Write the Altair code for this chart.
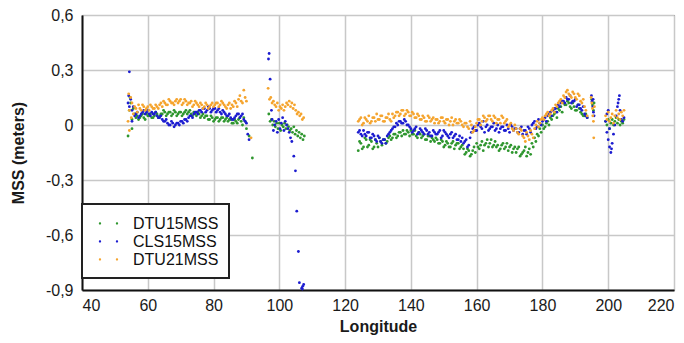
import altair as alt
import pandas as pd

series_names = ["DTU15MSS", "CLS15MSS", "DTU21MSS"]
series_colors = ["#2e962e", "#1c1cd0", "#f5a42e"]

x_ticks = [40, 60, 80, 100, 120, 140, 160, 180, 200, 220]
y_ticks = [-0.9, -0.6, -0.3, 0, 0.3, 0.6]

# ---------- segment 1 (54 E - 90 E) ----------
lon_s1 = [54.0, 54.8, 55.6, 56.4, 57.2, 58.0, 58.8, 59.6, 60.4, 61.2,
          62.0, 62.8, 63.6, 64.4, 65.2, 66.0, 66.8, 67.6, 68.4, 69.2,
          70.0, 70.8, 71.6, 72.4, 73.2, 74.0, 74.8, 75.6, 76.4, 77.2,
          78.0, 78.8, 79.6, 80.4, 81.2, 82.0, 82.8, 83.6, 84.4, 85.2,
          86.0, 86.8, 87.6, 88.4, 89.2, 90.0]
dtu15_s1 = [-0.06, 0.12, 0.09, 0.04, 0.03, 0.05, 0.04, 0.06, 0.05, 0.04,
            0.05, 0.06, 0.05, 0.06, 0.07, 0.06, 0.07, 0.06, 0.07, 0.06,
            0.07, 0.06, 0.08, 0.07, 0.06, 0.07, 0.05, 0.06, 0.05, 0.04,
            0.05, 0.03, 0.04, 0.03, 0.04, 0.03, 0.04, 0.03, 0.02, 0.03,
            0.01, 0.02, 0.03, 0.02, 0.04, -0.02]
cls15_s1 = [0.12, 0.14, 0.10, 0.06, 0.04, 0.06, 0.08, 0.07, 0.06, 0.07,
            0.06, 0.05, 0.04, 0.03, 0.02, 0.01, 0.00, 0.01, 0.00, 0.01,
            0.02, 0.01, 0.03, 0.04, 0.05, 0.06, 0.07, 0.08, 0.07, 0.09,
            0.08, 0.09, 0.08, 0.09, 0.08, 0.07, 0.08, 0.06, 0.05, 0.04,
            0.03, 0.05, 0.06, 0.05, 0.03, 0.01]
dtu21_s1 = [0.02, 0.15, 0.06, 0.09, 0.11, 0.08, 0.10, 0.09, 0.08, 0.10,
            0.09, 0.10, 0.11, 0.10, 0.12, 0.11, 0.13, 0.12, 0.13, 0.12,
            0.14, 0.12, 0.13, 0.12, 0.13, 0.11, 0.12, 0.10, 0.11, 0.10,
            0.11, 0.10, 0.12, 0.11, 0.12, 0.11, 0.12, 0.10, 0.11, 0.09,
            0.10, 0.12, 0.14, 0.13, 0.19, 0.13]

lon_s1b = [54.4, 55.2, 56.0, 56.8, 57.6, 58.4, 59.2, 60.0, 60.8, 61.6,
           62.4, 63.2, 64.0, 64.8, 65.6, 66.4, 67.2, 68.0, 68.8, 69.6,
           70.4, 71.2, 72.0, 72.8, 73.6, 74.4, 75.2, 76.0, 76.8, 77.6,
           78.4, 79.2, 80.0, 80.8, 81.6, 82.4, 83.2, 84.0, 84.8, 85.6,
           86.4, 87.2, 88.0, 88.8, 89.6]
dtu15_s1b = [0.08, 0.03, 0.06, 0.05, 0.04, 0.06, 0.03, 0.05, 0.06, 0.04,
             0.07, 0.04, 0.06, 0.08, 0.05, 0.07, 0.05, 0.08, 0.05, 0.07,
             0.05, 0.07, 0.06, 0.08, 0.05, 0.06, 0.07, 0.04, 0.06, 0.05,
             0.03, 0.05, 0.02, 0.04, 0.02, 0.04, 0.02, 0.04, 0.03, 0.01,
             0.03, 0.01, 0.04, 0.00, 0.02]
cls15_s1b = [0.10, 0.08, 0.05, 0.07, 0.05, 0.07, 0.06, 0.08, 0.05, 0.06,
             0.07, 0.04, 0.05, 0.02, 0.03, 0.00, 0.02, -0.01, 0.01, 0.00,
             0.02, 0.03, 0.02, 0.05, 0.04, 0.07, 0.06, 0.08, 0.09, 0.07,
             0.10, 0.07, 0.09, 0.07, 0.09, 0.06, 0.07, 0.05, 0.06, 0.03,
             0.04, 0.06, 0.04, 0.06, 0.02]
dtu21_s1b = [0.08, 0.12, 0.10, 0.07, 0.09, 0.11, 0.08, 0.10, 0.11, 0.09,
             0.11, 0.09, 0.12, 0.13, 0.11, 0.14, 0.12, 0.11, 0.14, 0.13,
             0.11, 0.14, 0.11, 0.12, 0.10, 0.13, 0.11, 0.12, 0.09, 0.12,
             0.09, 0.11, 0.10, 0.12, 0.10, 0.13, 0.11, 0.09, 0.12, 0.11,
             0.13, 0.10, 0.16, 0.12, 0.15]

dtu15_x1_lon = [54.6, 55.2, 90.8, 91.8]
dtu15_x1_val = [0.15, -0.02, -0.06, -0.18]
cls15_x1_lon = [54.4, 54.2, 55.2, 90.4, 90.8]
cls15_x1_val = [0.29, 0.16, 0.02, -0.05, -0.08]
dtu21_x1_lon = [54.2, 54.4, 55.0, 91.4]
dtu21_x1_val = [0.17, -0.03, 0.04, -0.07]

# ---------- segment 2 (97 E - 108 E) ----------
dtu15_s2_lon = [96.8, 97.2, 97.6, 98.0, 98.4, 98.8, 99.2, 99.6, 100.0, 100.4,
                100.8, 101.2, 101.6, 102.0, 102.4, 102.8, 103.2, 103.6, 104.0, 104.4,
                104.8, 105.2, 105.6, 106.0, 106.4, 106.8, 107.2, 107.6]
dtu15_s2 = [0.06, 0.02, 0.03, 0.00, 0.02, -0.01, 0.01, -0.02, 0.01, -0.03,
            0.00, -0.01, 0.01, -0.02, 0.00, -0.01, -0.03, -0.02, -0.04, -0.01,
            -0.05, -0.03, -0.06, -0.04, -0.07, -0.05, -0.08, -0.06]
cls15_s2_lon = [96.7, 96.9, 97.2, 97.6, 97.8, 98.2, 98.6, 99.0, 99.4, 99.8,
                100.2, 100.6, 101.0, 101.4, 101.8, 102.2, 102.6, 103.0, 103.4, 103.8,
                104.4, 104.9, 105.3, 105.8, 106.1, 106.8, 107.0, 107.1, 107.4]
cls15_s2 = [0.36, 0.39, 0.25, 0.08, 0.03, -0.03, 0.00, 0.02, -0.04, 0.03,
            -0.02, 0.01, 0.04, -0.03, 0.02, 0.00, -0.02, -0.04, -0.07, -0.09,
            -0.17, -0.25, -0.47, -0.69, -0.86, -0.89, -0.895, -0.88, -0.87]
dtu21_s2_lon = [96.6, 97.0, 97.4, 97.8, 98.2, 98.6, 99.0, 99.4, 99.8, 100.2,
                100.6, 101.0, 101.4, 101.8, 102.2, 102.6, 103.0, 103.4, 103.8, 104.2,
                104.6, 105.0, 105.4, 105.8, 106.2, 106.6, 107.0, 107.4]
dtu21_s2 = [0.20, 0.14, 0.15, 0.12, 0.13, 0.11, 0.10, 0.12, 0.08, 0.10,
            0.09, 0.11, 0.08, 0.10, 0.12, 0.11, 0.13, 0.10, 0.12, 0.09,
            0.11, 0.08, 0.06, 0.07, 0.05, 0.06, 0.03, 0.04]

# ---------- segment 3 (124 E - 194 E) ----------
lon_s3 = [124.0, 124.8, 125.6, 126.4, 127.2, 128.0, 128.8, 129.6, 130.4, 131.2,
          132.0, 132.8, 133.6, 134.4, 135.2, 136.0, 136.8, 137.6, 138.4, 139.2,
          140.0, 140.8, 141.6, 142.4, 143.2, 144.0, 144.8, 145.6, 146.4, 147.2,
          148.0, 148.8, 149.6, 150.4, 151.2, 152.0, 152.8, 153.6, 154.4, 155.2,
          156.0, 156.8, 157.6, 158.4, 159.2, 160.0, 160.8, 161.6, 162.4, 163.2,
          164.0, 164.8, 165.6, 166.4, 167.2, 168.0, 168.8, 169.6, 170.4, 171.2,
          172.0, 172.8, 173.6, 174.4, 175.2, 176.0, 176.8, 177.6, 178.4, 179.2,
          180.0, 180.8, 181.6, 182.4, 183.2, 184.0, 184.8, 185.6, 186.4, 187.2,
          188.0, 188.8, 189.6, 190.4, 191.2, 192.0, 192.8, 193.6]
dtu15_s3 = [-0.14, -0.10, -0.12, -0.08, -0.11, -0.09, -0.12, -0.10, -0.07, -0.11,
            -0.08, -0.09, -0.06, -0.07, -0.05, -0.06, -0.04, -0.03, -0.05, -0.04,
            -0.03, -0.05, -0.06, -0.04, -0.07, -0.05, -0.08, -0.06, -0.07, -0.09,
            -0.08, -0.10, -0.09, -0.11, -0.10, -0.12, -0.09, -0.11, -0.10, -0.12,
            -0.13, -0.15, -0.14, -0.16, -0.12, -0.10, -0.13, -0.09, -0.11, -0.08,
            -0.10, -0.12, -0.09, -0.11, -0.13, -0.10, -0.12, -0.14, -0.11, -0.13,
            -0.15, -0.12, -0.16, -0.14, -0.17, -0.13, -0.10, -0.07, -0.05, -0.02,
            0.00, -0.01, 0.02, 0.04, 0.05, 0.07, 0.09, 0.10, 0.12, 0.11,
            0.12, 0.09, 0.10, 0.08, 0.09, 0.06, 0.05, 0.04]
cls15_s3 = [-0.04, -0.05, -0.03, -0.06, -0.04, -0.07, -0.06, -0.09, -0.07, -0.10,
            -0.08, -0.06, -0.04, -0.02, -0.01, 0.00, 0.02, 0.01, 0.02, 0.00,
            -0.02, -0.03, -0.01, -0.04, -0.03, -0.05, -0.03, -0.04, -0.06, -0.04,
            -0.05, -0.03, -0.06, -0.04, -0.06, -0.05, -0.07, -0.05, -0.08, -0.09,
            -0.10, -0.08, -0.11, -0.04, -0.01, -0.03, 0.01, -0.02, -0.04, 0.00,
            -0.02, -0.01, -0.03, 0.00, -0.02, -0.01, -0.03, -0.02, 0.00, -0.03,
            -0.02, -0.04, -0.01, -0.03, -0.05, -0.02, 0.00, 0.02, -0.01, 0.01,
            0.02, 0.04, 0.05, 0.07, 0.08, 0.09, 0.11, 0.12, 0.13, 0.15,
            0.14, 0.12, 0.13, 0.10, 0.11, 0.08, 0.06, 0.04]
dtu21_s3 = [0.02, 0.04, 0.01, 0.03, 0.05, 0.02, 0.04, 0.06, 0.03, 0.05,
            0.02, 0.04, 0.03, 0.06, 0.05, 0.07, 0.06, 0.08, 0.06, 0.07,
            0.05, 0.06, 0.04, 0.05, 0.03, 0.04, 0.02, 0.04, 0.03, 0.01,
            0.03, 0.02, 0.04, 0.01, 0.03, 0.02, 0.00, 0.03, 0.01, 0.02,
            -0.01, 0.01, -0.02, 0.00, -0.03, 0.01, 0.03, 0.02, 0.04, 0.03,
            0.05, 0.02, 0.04, 0.03, 0.01, 0.04, 0.02, -0.01, 0.01, -0.03,
            -0.02, -0.05, -0.03, -0.07, -0.04, -0.08, -0.05, -0.02, 0.02, 0.01,
            0.04, 0.05, 0.07, 0.06, 0.09, 0.11, 0.12, 0.14, 0.16, 0.18,
            0.17, 0.15, 0.17, 0.14, 0.16, 0.12, 0.10, 0.05]

lon_s3b = [124.4, 125.2, 126.0, 126.8, 127.6, 128.4, 129.2, 130.0, 130.8, 131.6,
           132.4, 133.2, 134.0, 134.8, 135.6, 136.4, 137.2, 138.0, 138.8, 139.6,
           140.4, 141.2, 142.0, 142.8, 143.6, 144.4, 145.2, 146.0, 146.8, 147.6,
           148.4, 149.2, 150.0, 150.8, 151.6, 152.4, 153.2, 154.0, 154.8, 155.6,
           156.4, 157.2, 158.0, 158.8, 159.6, 160.4, 161.2, 162.0, 162.8, 163.6,
           164.4, 165.2, 166.0, 166.8, 167.6, 168.4, 169.2, 170.0, 170.8, 171.6,
           172.4, 173.2, 174.0, 174.8, 175.6, 176.4, 177.2, 178.0, 178.8, 179.6,
           180.4, 181.2, 182.0, 182.8, 183.6, 184.4, 185.2, 186.0, 186.8, 187.6,
           188.4, 189.2, 190.0, 190.8, 191.6, 192.4, 193.2]
dtu15_s3b = [-0.09, -0.13, -0.07, -0.12, -0.08, -0.13, -0.08, -0.12, -0.09, -0.08,
             -0.10, -0.07, -0.08, -0.05, -0.07, -0.04, -0.06, -0.05, -0.03, -0.06,
             -0.05, -0.03, -0.07, -0.05, -0.06, -0.08, -0.06, -0.09, -0.08, -0.07,
             -0.10, -0.08, -0.12, -0.09, -0.12, -0.10, -0.13, -0.10, -0.13, -0.11,
             -0.16, -0.13, -0.17, -0.14, -0.15, -0.12, -0.11, -0.14, -0.10, -0.12,
             -0.08, -0.11, -0.12, -0.14, -0.11, -0.13, -0.10, -0.12, -0.15, -0.12,
             -0.13, -0.17, -0.15, -0.12, -0.15, -0.16, -0.12, -0.09, -0.06, -0.04,
             -0.02, 0.01, 0.00, 0.03, 0.06, 0.04, 0.08, 0.07, 0.11, 0.13,
             0.10, 0.12, 0.08, 0.11, 0.07, 0.05, 0.06]
cls15_s3b = [-0.03, -0.06, -0.05, -0.04, -0.07, -0.05, -0.08, -0.06, -0.09, -0.08,
             -0.10, -0.05, -0.03, -0.01, 0.01, 0.02, 0.01, 0.03, 0.00, -0.01,
             -0.04, -0.02, -0.05, -0.02, -0.04, -0.02, -0.05, -0.06, -0.03, -0.05,
             -0.04, -0.07, -0.03, -0.05, -0.07, -0.04, -0.06, -0.08, -0.06, -0.07,
             -0.09, -0.12, -0.07, -0.02, -0.03, 0.00, -0.01, 0.02, -0.01, -0.03,
             -0.01, 0.01, -0.02, -0.04, -0.01, -0.03, 0.00, -0.04, -0.01, -0.02,
             -0.04, -0.02, -0.05, -0.03, -0.01, -0.04, 0.01, -0.02, 0.03, 0.00,
             0.03, 0.02, 0.06, 0.05, 0.09, 0.07, 0.10, 0.13, 0.12, 0.14,
             0.16, 0.13, 0.14, 0.11, 0.09, 0.10, 0.05]
dtu21_s3b = [0.03, 0.00, 0.04, 0.02, 0.01, 0.04, 0.02, 0.03, 0.05, 0.02,
             0.04, 0.06, 0.02, 0.04, 0.07, 0.05, 0.08, 0.05, 0.08, 0.05,
             0.07, 0.04, 0.06, 0.03, 0.05, 0.02, 0.05, 0.02, 0.04, 0.03,
             0.01, 0.04, 0.02, 0.03, 0.00, 0.04, 0.02, 0.01, 0.03, 0.00,
             0.01, -0.01, 0.02, -0.04, -0.01, 0.03, 0.00, 0.05, 0.02, 0.05,
             0.03, 0.05, 0.01, 0.03, 0.05, 0.01, 0.03, 0.00, -0.02, 0.00,
             -0.04, -0.02, -0.06, -0.09, -0.06, -0.03, -0.07, 0.00, -0.01, 0.03,
             0.03, 0.06, 0.05, 0.08, 0.07, 0.10, 0.13, 0.12, 0.15, 0.19,
             0.16, 0.18, 0.15, 0.17, 0.13, 0.14, 0.08]

# ---------- short track near 195 E ----------
dtu15_s4_lon = [195.0, 195.2, 195.5, 195.7]
dtu15_s4 = [0.14, 0.11, 0.08, 0.12]
cls15_s4_lon = [194.9, 195.1, 195.3, 195.5, 195.7, 195.4]
cls15_s4 = [0.16, 0.13, 0.10, 0.07, 0.05, 0.14]
dtu21_s4_lon = [194.8, 195.0, 195.2, 195.3, 195.5, 195.6, 195.8]
dtu21_s4 = [0.15, 0.12, 0.09, 0.05, 0.02, -0.07, 0.10]

# ---------- last track (199 E - 205 E) ----------
lon_s5 = [199.2, 199.6, 200.0, 200.4, 200.8, 201.2, 201.6, 202.0, 202.4, 202.8,
          203.2, 203.6, 204.0, 204.4, 204.8]
dtu15_s5 = [0.02, 0.00, 0.03, -0.02, 0.01, 0.03, 0.00, 0.02, 0.04, 0.01,
            0.03, 0.00, 0.02, 0.01, 0.03]
cls15_s5 = [0.02, -0.04, -0.08, -0.12, -0.15, -0.10, -0.05, 0.00, 0.05, 0.10,
            0.14, 0.08, 0.03, 0.02, 0.04]
dtu21_s5 = [0.05, 0.03, 0.07, 0.02, 0.04, 0.06, 0.01, 0.05, 0.08, 0.04,
            0.06, 0.03, 0.07, 0.05, 0.08]
cls15_x5_lon = [199.6, 200.4, 201.0, 203.0, 203.4, 200.0]
cls15_x5_val = [0.06, -0.02, -0.13, 0.12, 0.16, 0.08]


def frame(name, pairs):
    rows = []
    for lons, vals in pairs:
        for lo, va in zip(lons, vals):
            rows.append({"lon": lo, "mss": va, "series": name})
    return rows


rows = []
rows += frame("DTU15MSS", [(lon_s1, dtu15_s1), (lon_s1b, dtu15_s1b),
                           (dtu15_x1_lon, dtu15_x1_val),
                           (dtu15_s2_lon, dtu15_s2), (lon_s3, dtu15_s3),
                           (lon_s3b, dtu15_s3b),
                           (dtu15_s4_lon, dtu15_s4), (lon_s5, dtu15_s5)])
rows += frame("CLS15MSS", [(lon_s1, cls15_s1), (lon_s1b, cls15_s1b),
                           (cls15_x1_lon, cls15_x1_val),
                           (cls15_s2_lon, cls15_s2), (lon_s3, cls15_s3),
                           (lon_s3b, cls15_s3b),
                           (cls15_s4_lon, cls15_s4), (lon_s5, cls15_s5),
                           (cls15_x5_lon, cls15_x5_val)])
rows += frame("DTU21MSS", [(lon_s1, dtu21_s1), (lon_s1b, dtu21_s1b),
                           (dtu21_x1_lon, dtu21_x1_val),
                           (dtu21_s2_lon, dtu21_s2), (lon_s3, dtu21_s3),
                           (lon_s3b, dtu21_s3b),
                           (dtu21_s4_lon, dtu21_s4), (lon_s5, dtu21_s5)])
df = pd.DataFrame(rows)

two_dots = ("M-0.28,0a0.12,0.12 0 1,0 0.24,0a0.12,0.12 0 1,0 -0.24,0"
            "M1.52,0a0.12,0.12 0 1,0 0.24,0a0.12,0.12 0 1,0 -0.24,0")

y_label_expr = ("datum.value == 0 ? '0' : "
                "replace(replace(format(datum.value, '.1f'), '.', ','), '\u2212', '-')")

chart = alt.Chart(df).mark_circle(size=8, opacity=1).encode(
    x=alt.X("lon:Q",
            scale=alt.Scale(domain=[40, 220], nice=False, zero=False),
            axis=alt.Axis(values=x_ticks, title="Longitude", labelPadding=7,
                          titlePadding=5, format="d")),
    y=alt.Y("mss:Q",
            scale=alt.Scale(domain=[-0.9, 0.6], nice=False, zero=False),
            axis=alt.Axis(values=y_ticks, title="MSS (meters)", labelPadding=9,
                          labelExpr=y_label_expr, titleX=-64, titleY=137.5,
                          titleAngle=270, titleBaseline="middle")),
    color=alt.Color("series:N",
                    scale=alt.Scale(domain=series_names, range=series_colors),
                    legend=alt.Legend(title=None, orient="none", legendX=0, legendY=189,
                                      padding=10, strokeColor="#222", fillColor="white",
                                      symbolType=two_dots, symbolSize=357,
                                      symbolStrokeWidth=0, labelFontSize=16,
                                      labelFont="Liberation Sans", labelColor="#111",
                                      labelOffset=22, rowPadding=0)),
).properties(
    width=592, height=275,
    autosize=alt.AutoSizeParams(type="none"),
    padding={"left": 82, "top": 15, "right": 10, "bottom": 53},
    background="white",
).configure_axis(
    labelFont="Liberation Sans", labelFontSize=16, labelColor="#1a1a1a",
    titleFont="Liberation Sans", titleFontSize=16, titleFontWeight="bold",
    titleColor="#1a1a1a",
    gridColor="#c8c8c8", gridWidth=1.5, domainColor="#111", domainWidth=2,
    ticks=False,
).configure_legend(
    strokeWidth=2,
).configure_view(
    stroke="#333", strokeWidth=1,
)

chart.save("out.html", embed_options={"renderer": "svg", "actions": False})
